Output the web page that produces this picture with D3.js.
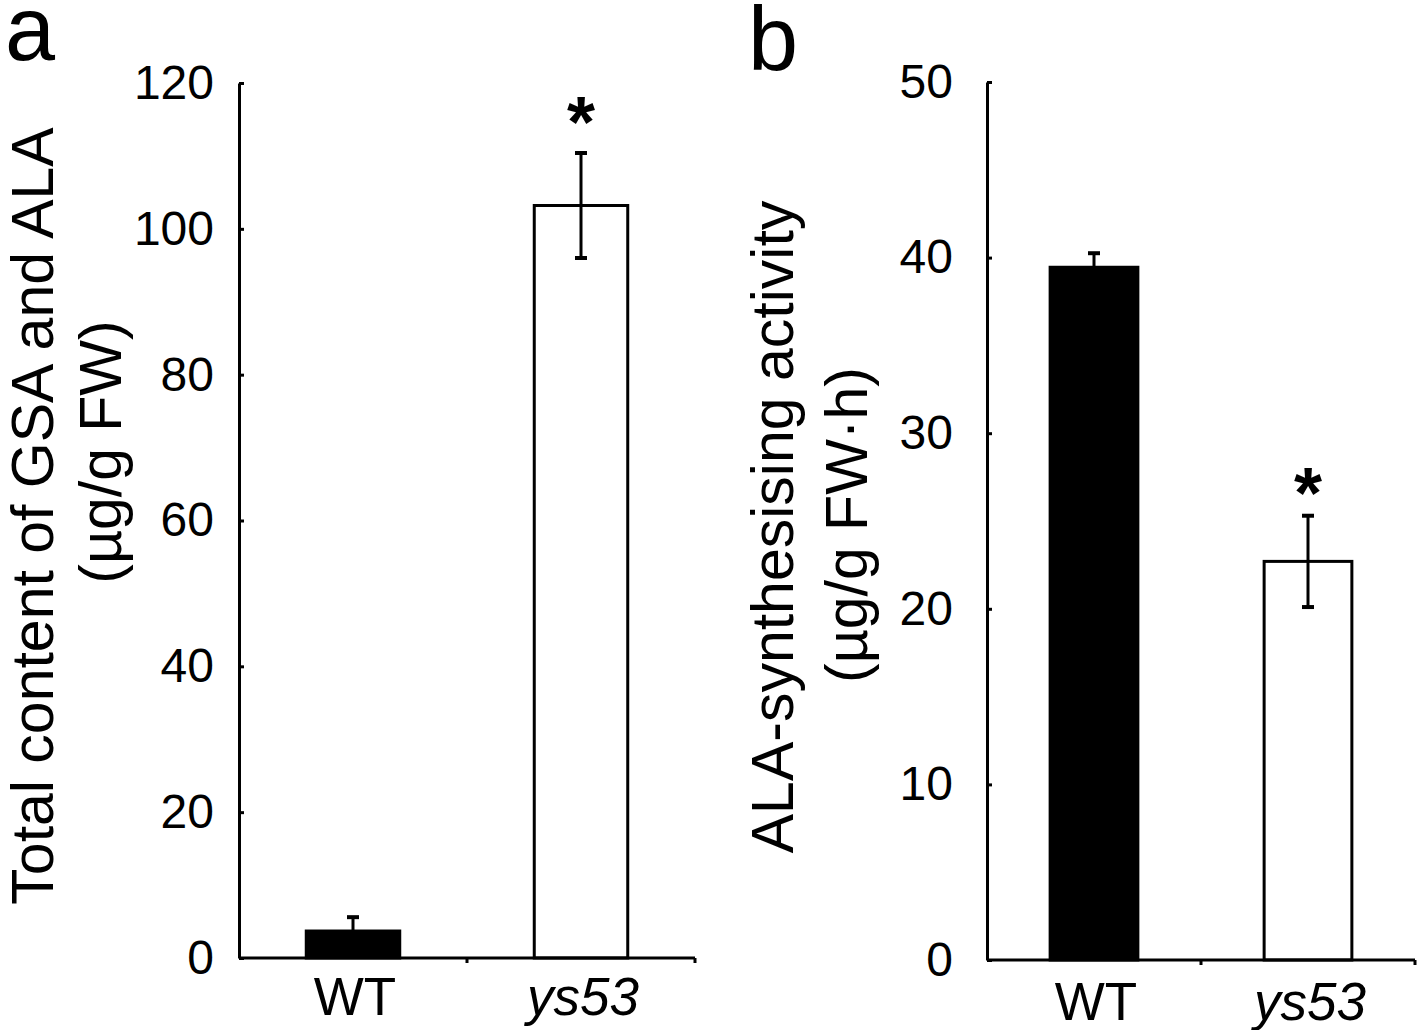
<!DOCTYPE html>
<html>
<head>
<meta charset="utf-8">
<script src="https://cdn.jsdelivr.net/npm/d3@7"></script>
<style>
  html, body { margin: 0; padding: 0; background: #fff; }
  svg { display: block; }
  text { font-family: "Liberation Sans", Arial, Helvetica, sans-serif; fill: #000; }
</style>
</head>
<body>
<svg id="chart" width="1418" height="1030"></svg>
<script>
// ---- data ----
const categories = ["WT", "ys53"];
const barFills = ["#000000", "#ffffff"];
const significant = [false, true];

const gsaAlaMean = [3.7, 103.2];
const gsaAlaErr = [1.9, 7.2];
const gsaAlaTicks = [0, 20, 40, 60, 80, 100, 120];

const activityMean = [39.45, 22.7];
const activityErr = [0.8, 2.6];
const activityTicks = [0, 10, 20, 30, 40, 50];

const svg = d3.select("#chart");

function drawPanel(o) {
  const g = svg.append("g");
  const x = d3.scaleBand().domain(categories).range([o.x0, o.x1])
    .paddingInner(0.59).paddingOuter(0.295);
  const y = d3.scaleLinear().domain([0, o.ymax]).range([o.y0, o.y1]);

  // bars
  g.selectAll("rect.bar").data(categories).join("rect")
    .attr("class", "bar")
    .attr("x", d => x(d))
    .attr("width", x.bandwidth())
    .attr("y", (d, i) => y(o.mean[i]))
    .attr("height", (d, i) => y(0) - y(o.mean[i]))
    .attr("fill", (d, i) => barFills[i])
    .attr("stroke", "#000")
    .attr("stroke-width", 3);

  // error bars
  const eb = g.selectAll("g.err").data(categories).join("g").attr("class", "err");
  eb.append("line")
    .attr("x1", d => x(d) + x.bandwidth() / 2)
    .attr("x2", d => x(d) + x.bandwidth() / 2)
    .attr("y1", (d, i) => y(o.mean[i] + o.err[i]))
    .attr("y2", (d, i) => y(o.mean[i] - o.err[i]))
    .attr("stroke", "#000").attr("stroke-width", 3);
  [1, -1].forEach(s => {
    eb.append("line")
      .attr("x1", d => x(d) + x.bandwidth() / 2 - 6)
      .attr("x2", d => x(d) + x.bandwidth() / 2 + 6)
      .attr("y1", (d, i) => y(o.mean[i] + s * o.err[i]))
      .attr("y2", (d, i) => y(o.mean[i] + s * o.err[i]))
      .attr("stroke", "#000").attr("stroke-width", 4);
  });

  // significance asterisks
  g.selectAll("text.sig").data(categories.filter((d, i) => significant[i])).join("text")
    .attr("class", "sig")
    .attr("x", d => x(d) + x.bandwidth() / 2)
    .attr("y", d => { const i = categories.indexOf(d); return y(o.mean[i] + o.err[i]) + o.starDy; })
    .attr("text-anchor", "middle")
    .attr("font-size", 72)
    .attr("font-weight", "bold")
    .text("*");

  // y axis
  const ya = g.append("g").attr("transform", `translate(${o.x0},0)`)
    .call(d3.axisLeft(y).tickValues(o.ticks).tickSize(-5).tickSizeOuter(0).tickPadding(o.tickPad));
  ya.select(".domain").attr("stroke-width", 3);
  ya.selectAll(".tick line").attr("stroke-width", 3);
  ya.selectAll(".tick text").attr("font-size", 48).attr("font-family", null);

  // x axis: ticks at band boundaries
  const xa = g.append("g").attr("transform", `translate(0,${o.y0})`);
  xa.append("line").attr("x1", o.x0).attr("x2", o.x1).attr("y1", 0).attr("y2", 0)
    .attr("stroke", "#000").attr("stroke-width", 3);
  xa.selectAll("line.xt").data(categories).join("line").attr("class", "xt")
    .attr("x1", d => x(d) + x.bandwidth() / 2 + x.step() / 2)
    .attr("x2", d => x(d) + x.bandwidth() / 2 + x.step() / 2)
    .attr("y1", 0).attr("y2", 5)
    .attr("stroke", "#000").attr("stroke-width", 3);
  xa.selectAll("text.xl").data(categories).join("text").attr("class", "xl")
    .attr("x", d => x(d) + x.bandwidth() / 2 + 2)
    .attr("y", o.xLabelY - o.y0)
    .attr("text-anchor", "middle")
    .attr("font-size", 53)
    .attr("font-style", d => d === "ys53" ? "italic" : "normal")
    .text(d => d);

  // y titles
  o.titles.forEach(t => {
    g.append("text")
      .attr("transform", `translate(${t.x},${t.y}) rotate(-90)`)
      .attr("text-anchor", "middle")
      .attr("font-size", 59)
      .text(t.text);
  });

  // panel letter
  svg.append("text").attr("x", o.letter.x).attr("y", o.letter.y)
    .attr("font-size", 90).text(o.letter.text);
}

drawPanel({
  x0: 239, x1: 695, y0: 958, y1: 83, ymax: 120,
  mean: gsaAlaMean, err: gsaAlaErr, ticks: gsaAlaTicks, tickPad: 25,
  starDy: -6, xLabelY: 1015,
  titles: [
    { x: 53, y: 516, text: "Total content of GSA and ALA" },
    { x: 121, y: 452, text: "(µg/g FW)" }
  ],
  letter: { x: 5, y: 60, text: "a" }
});

drawPanel({
  x0: 987, x1: 1415, y0: 960, y1: 82, ymax: 50,
  mean: activityMean, err: activityErr, ticks: activityTicks, tickPad: 34,
  starDy: 2, xLabelY: 1020,
  titles: [
    { x: 793, y: 527, text: "ALA-synthesising activity" },
    { x: 867, y: 525, text: "(µg/g FW·h)" }
  ],
  letter: { x: 748, y: 70, text: "b" }
});
</script>
</body>
</html>
